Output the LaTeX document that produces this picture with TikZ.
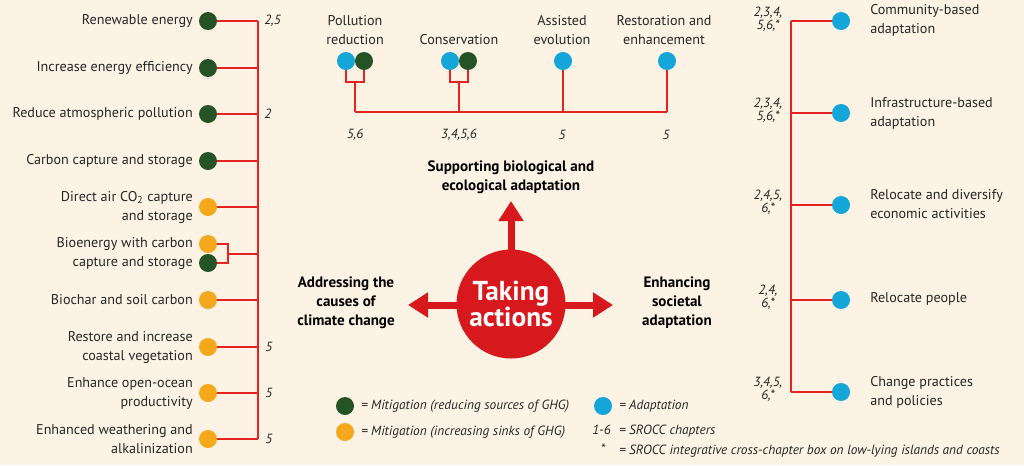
\documentclass[tikz,border=0pt]{standalone}
\usepackage{fontspec}
\setmainfont{PT Sans}
\usetikzlibrary{arrows.meta}
\definecolor{bgc}{HTML}{FCF3E4}
\definecolor{redl}{HTML}{E52421}
\definecolor{redc}{HTML}{D7191E}
\definecolor{dgreen}{HTML}{265325}
\definecolor{orng}{HTML}{F5A81C}
\definecolor{blu}{HTML}{14A6D9}
\tikzset{
 dotn/.style={circle, inner sep=0pt, minimum size=13.5pt},
 gdot/.style={dotn, fill=dgreen},
 odot/.style={dotn, fill=orng},
 bdot/.style={dotn, fill=blu},
 link/.style={draw=redl, line width=1.5pt},
 lbl/.style={font=\fontsize{10.6}{14.25}\selectfont, inner sep=0pt, text=black!85},
 llbl/.style={lbl, anchor=east, align=right},
 rlbl/.style={lbl, anchor=west, align=left},
 tlbl/.style={lbl, align=center},
 chap/.style={font=\fontsize{10}{10}\selectfont\itshape, inner sep=0pt, text=black!85, align=center},
 head/.style={font=\fontsize{11.3}{14.25}\selectfont\bfseries, align=center, inner sep=0pt},
 leg/.style={font=\fontsize{10}{14}\selectfont\itshape, inner sep=0pt, anchor=west, text=black!85},
 bigarrow/.style={draw=redc, line width=5.25pt, -{Triangle[width=18pt,length=15pt]}},
}
\begin{document}
\begin{tikzpicture}[x=0.75pt,y=-0.75pt]
\useasboundingbox (0,0) rectangle (1024,465);
\fill[bgc] (0,0) rectangle (1024,465);
% ---------- left column ----------
\node[gdot] (l1) at (208,21) {};
\node[gdot] (l2) at (208,68) {};
\node[gdot] (l3) at (208,114) {};
\node[gdot] (l4) at (208,161) {};
\node[odot] (l5) at (208,207) {};
\node[odot] (l6a) at (208,244) {};
\node[gdot] (l6b) at (208,263) {};
\node[odot] (l7) at (208,300) {};
\node[odot] (l8) at (208,347) {};
\node[odot] (l9) at (208,393) {};
\node[odot] (l10) at (208,439) {};
\node[llbl] (t1) at (193,21) {Renewable energy};
\node[llbl] (t2) at (193,68) {Increase energy efficiency};
\node[llbl] (t3) at (193,114) {Reduce atmospheric pollution};
\node[llbl] (t4) at (193,161) {Carbon capture and storage};
\node[llbl] (t5) at (193,207) {Direct air CO\textsubscript{2} capture\\and storage};
\node[llbl] (t6) at (193,253.5) {Bioenergy with carbon\\capture and storage};
\node[llbl] (t7) at (193,300) {Biochar and soil carbon};
\node[llbl] (t8) at (193,347) {Restore and increase\\coastal vegetation};
\node[llbl] (t9) at (193,393) {Enhance open-ocean\\productivity};
\node[llbl] (t10) at (193,439) {Enhanced weathering and\\alkalinization};
\coordinate (v1) at (258,21);
\coordinate (v2) at (258,68);
\coordinate (v3) at (258,114);
\coordinate (v4) at (258,161);
\coordinate (v5) at (258,207);
\coordinate (v6) at (258,253.5);
\coordinate (v7) at (258,300);
\coordinate (v8) at (258,347);
\coordinate (v9) at (258,393);
\coordinate (v10) at (258,439);
\coordinate (bk) at (228,253.5);
\draw[link] (v1) -- (v10);
\foreach \i in {1,2,3,4,5,7,8,9,10} \draw[link] (l\i.east) -- (v\i);
\draw[link] (l6a.east) -| (bk) |- (l6b.east);
\draw[link] (bk) -- (v6);
\node[chap, anchor=west] (c1) at (264,21) {2,5};
\node[chap, anchor=west] (c3) at (264,114) {2};
\node[chap, anchor=west] (c8) at (265,347) {5};
\node[chap, anchor=west] (c9) at (265,393) {5};
\node[chap, anchor=west] (c10) at (265,439) {5};
% ---------- top ----------
\node[bdot] (p1) at (346,61) {};
\node[gdot] (p2) at (364,61) {};
\node[bdot] (q1) at (450,61) {};
\node[gdot] (q2) at (468,61) {};
\node[bdot] (r1) at (563,61) {};
\node[bdot] (s1) at (667,61) {};
\coordinate (pb) at (355,82);
\coordinate (qb) at (459,82);
\coordinate (ph) at (355,112);
\coordinate (qh) at (459,112);
\coordinate (rh) at (563,112);
\coordinate (sh) at (667,112);
\draw[link] (p1.south) |- (pb) -| (p2.south);
\draw[link] (q1.south) |- (qb) -| (q2.south);
\draw[link] (pb) -- (ph);
\draw[link] (qb) -- (qh);
\draw[link] (r1.south) -- (rh);
\draw[link] (s1.south) -- (sh);
\draw[link] (ph) -- (sh);
\node[tlbl] (tp) at (355,30.5) {Pollution\\reduction};
\node[tlbl] (tq) at (459,40) {Conservation};
\node[tlbl] (tr) at (562,30.5) {Assisted\\evolution};
\node[tlbl] (ts) at (664,30.5) {Restoration and\\enhancement};
\node[chap] (cp) at (355,135) {5,6};
\node[chap] (cq) at (459,135) {3,4,5,6};
\node[chap] (cr) at (562,135) {5};
\node[chap] (cs) at (666,135) {5};
\node[head] (hs) at (511,177.5) {Supporting biological and\\ecological adaptation};
% ---------- centre ----------
\node[circle, fill=redc, minimum size=81.75pt, inner sep=0pt, text=white, align=center,
      font=\fontsize{20.5}{19}\selectfont\bfseries] (ta) at (511,304) {Taking\\actions};
\coordinate (upTip) at (511,201);
\coordinate (leftTip) at (408,305);
\coordinate (rightTip) at (613,305);
\draw[bigarrow] ([yshift=-2pt]ta.north) -- (upTip);
\draw[bigarrow] ([xshift=2pt]ta.west |- leftTip) -- (leftTip);
\draw[bigarrow] ([xshift=-2pt]ta.east |- rightTip) -- (rightTip);
\node[head] (ha) at (346,303) {Addressing the\\causes of\\climate change};
\node[head] (he) at (677,303) {Enhancing\\societal\\adaptation};
% ---------- right column ----------
\node[bdot] (a1) at (841,21) {};
\node[bdot] (a2) at (841,113) {};
\node[bdot] (a3) at (841,205) {};
\node[bdot] (a4) at (841,300) {};
\node[bdot] (a5) at (841,392) {};
\coordinate (w1) at (791,21);
\coordinate (w2) at (791,113);
\coordinate (w3) at (791,205);
\coordinate (w4) at (791,300);
\coordinate (w5) at (791,392);
\draw[link] (w1) -- (w5);
\foreach \i in {1,...,5} \draw[link] (w\i) -- (a\i.west);
\node[rlbl] (u1) at (870,20.5) {Community-based\\adaptation};
\node[rlbl] (u2) at (870,113) {Infrastructure-based\\adaptation};
\node[rlbl] (u3) at (870,204) {Relocate and diversify\\economic activities};
\node[rlbl] (u4) at (870,299) {Relocate people};
\node[rlbl] (u5) at (870,392) {Change practices\\and policies};
\node[chap] (k1) at (768,19) {2,3,4,\\5,6,*};
\node[chap] (k2) at (768,110) {2,3,4,\\5,6,*};
\node[chap] (k3) at (768,202) {2,4,5,\\6,*};
\node[chap] (k4) at (768,297) {2,4,\\6,*};
\node[chap] (k5) at (768,389) {3,4,5,\\6,*};
% ---------- legend ----------
\node[gdot] (g1) at (345,406) {};
\node[odot] (g2) at (345,432) {};
\node[bdot] (g3) at (603,406) {};
\node[leg] (e1) at (361,406) {= Mitigation (reducing sources of GHG)};
\node[leg] (e2) at (361,432) {= Mitigation (increasing sinks of GHG)};
\node[leg] (e3) at (619,406) {= Adaptation};
\node[leg, anchor=east] (e4a) at (611,430) {1-6};
\node[leg] (e4) at (619,431) {= SROCC chapters};
\node[leg, anchor=center] (e5a) at (603,449) {*};
\node[leg] (e5) at (619,451) {= SROCC integrative cross-chapter box on low-lying islands and coasts};
\end{tikzpicture}
\end{document}
